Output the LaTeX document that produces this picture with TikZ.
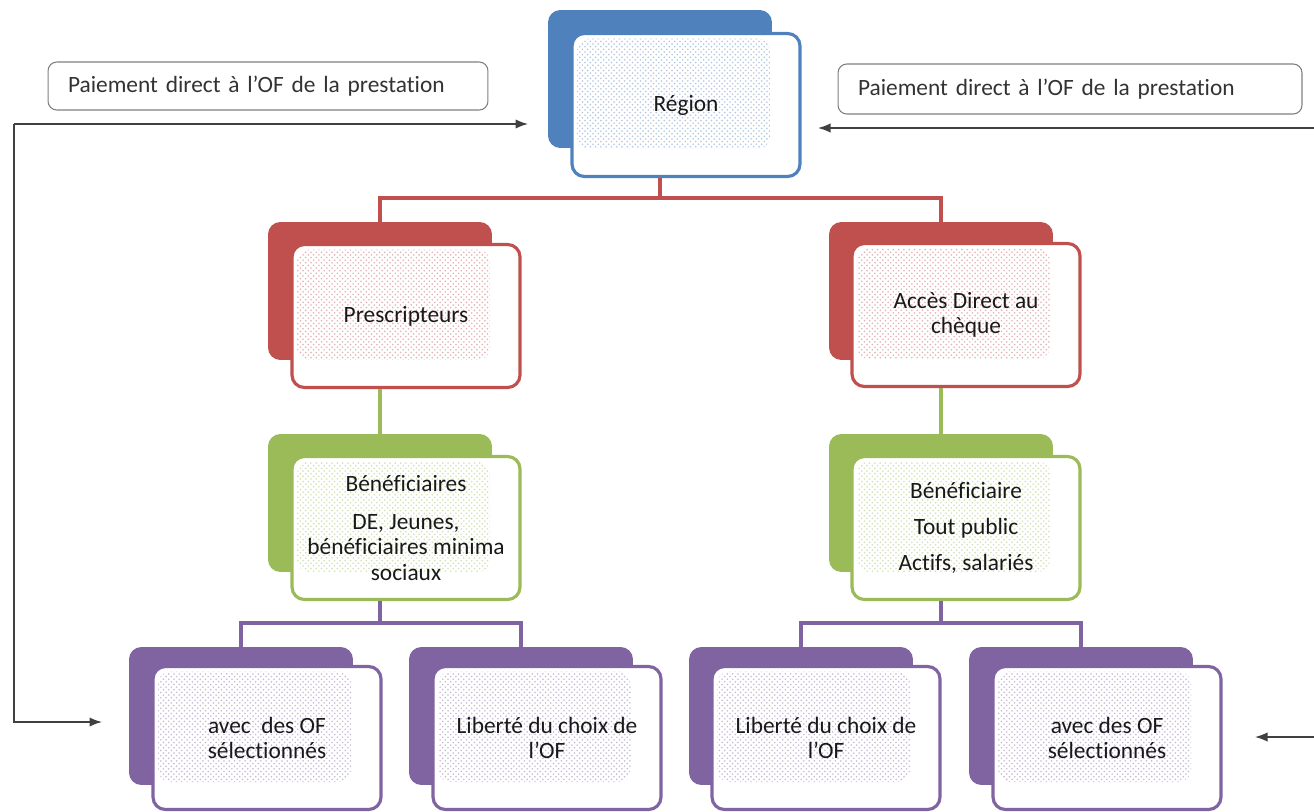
\documentclass[tikz,border=0pt]{standalone}
\usepackage{fontspec}
\setmainfont{Carlito}[Ligatures={TeX,NoCommon}]
\usepackage{xcolor}
\usepackage{tikz}
\usetikzlibrary{arrows.meta,positioning,patterns}
\definecolor{regblue}{HTML}{4F81BD}
\definecolor{presred}{HTML}{C0504D}
\definecolor{benegreen}{HTML}{9BBB59}
\definecolor{ofpurple}{HTML}{8064A2}
\definecolor{notegray}{HTML}{7F7F7F}

\begin{document}
\begin{tikzpicture}[x=0.02cm, y=-0.02cm,
    back/.style={rectangle, rounded corners=7pt, fill=#1, minimum width=4.48cm, minimum height=2.76cm, inner sep=0pt},
    front/.style={rectangle, rounded corners=7pt, draw=#1, line width=1.8pt, fill=white,
      minimum width=4.56cm, minimum height=2.86cm, align=center,
      font=\fontsize{13.3}{14.5}\selectfont, text=black!90,
      path picture={\fill[pattern=crosshatch dots, pattern color=#1!45]
        ([shift={(0.1cm,-0.1cm)}]path picture bounding box.north west) rectangle
        ([shift={(-0.6cm,0.55cm)}]path picture bounding box.south east);}},
    note/.style={rectangle, rounded corners=5pt, draw=notegray, line width=0.6pt, inner xsep=0.4cm,
      align=left, font=\fontsize{13.3}{15}\selectfont, text=black!80},
    link/.style={draw=#1, line width=1.8pt},
    flow/.style={draw=black!75, line width=0.8pt, -{Latex[length=2.5mm]}}]

\useasboundingbox (0,0) rectangle (1314,811);

% region
\node[back=regblue] (regionB) at (660,79) {};
\node[front=regblue] (region) at (686,105) {Région};

% notes
\node[note, text width=8.0cm, minimum height=0.96cm] (noteL) at (268,86) {Paiement direct à l’OF de la prestation};
\node[note, text width=8.48cm, minimum height=1.0cm] (noteR) at (1070,89) {Paiement direct à l’OF de la prestation};

% prescripteurs / acces direct
\node[back=presred] (prescB) at (380,291) {};
\node[front=presred] (presc) at (406,316) {Prescripteurs};
\node[back=presred] (accesB) at (941,291) {};
\node[front=presred] (acces) at (966,315) {Accès Direct au\\chèque};

% beneficiaires
\node[back=benegreen] (benefB) at (380,503) {};
\node[front=benegreen] (benef) at (406,528) {Bénéficiaires\\[7pt]DE, Jeunes,\\bénéficiaires minima\\sociaux};
\node[back=benegreen] (benefdB) at (941,503) {};
\node[front=benegreen] (benefd) at (966,528) {Bénéficiaire\\[6pt]Tout public\\[6pt]Actifs, salariés};

% OF
\node[back=ofpurple] (selgB) at (241,716) {};
\node[front=ofpurple] (selg) at (267,738) {avec\ \ des OF\\sélectionnés};
\node[back=ofpurple] (libgB) at (521,716) {};
\node[front=ofpurple] (libg) at (547,738) {Liberté du choix de\\l'OF};
\node[back=ofpurple] (libdB) at (801,716) {};
\node[front=ofpurple] (libd) at (826,738) {Liberté du choix de\\l'OF};
\node[back=ofpurple] (seldB) at (1081,716) {};
\node[front=ofpurple] (seld) at (1107,738) {avec des OF\\sélectionnés};

% tree links
\draw[link=presred] (regionB.center |- region.south) -- ++(0,20) -| (prescB.north);
\draw[link=presred] (regionB.center |- region.south) -- ++(0,20) -| (accesB.north);
\draw[link=benegreen] (prescB.center |- presc.south) -- (benefB.north);
\draw[link=benegreen] (accesB.center |- acces.south) -- (benefdB.north);
\draw[link=ofpurple] (benefB.center |- benef.south) -- ++(0,22) -| (selgB.north);
\draw[link=ofpurple] (benefB.center |- benef.south) -- ++(0,22) -| (libgB.north);
\draw[link=ofpurple] (benefdB.center |- benefd.south) -- ++(0,22) -| (libdB.north);
\draw[link=ofpurple] (benefdB.center |- benefd.south) -- ++(0,22) -| (seldB.north);

% payment flows
\coordinate (cornerL) at (14,124);
\coordinate (toRegionL) at (528,124);
\coordinate (toSelG) at (102,722);
\coordinate (edgeR) at (1314,128);
\coordinate (toRegionR) at (818,128);
\coordinate (edgeRb) at (1314,737);
\coordinate (toSelD) at (1255,737);
\draw[flow] (cornerL) -- (toRegionL);
\draw[flow] (cornerL) |- (toSelG);
\draw[flow] (edgeR) -- (toRegionR);
\draw[flow] (edgeRb) -- (toSelD);
\end{tikzpicture}
\end{document}
